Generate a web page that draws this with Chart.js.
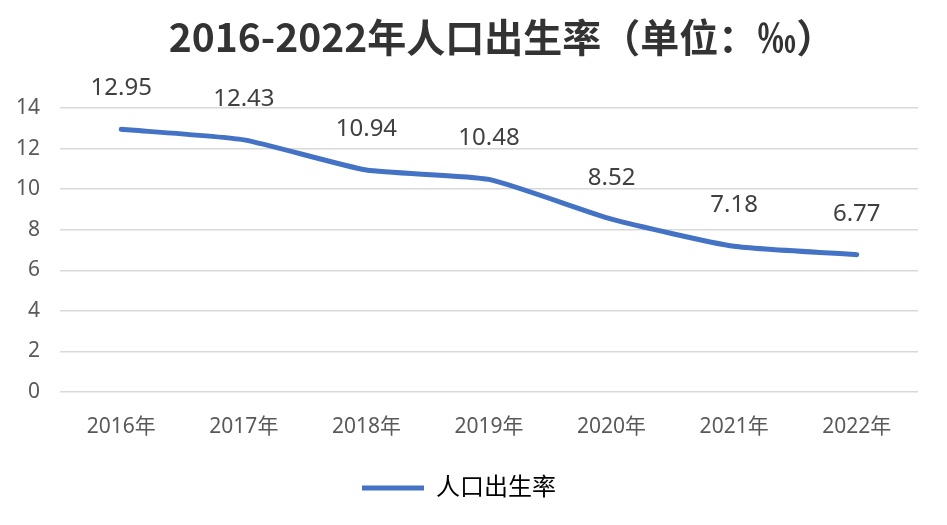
<!DOCTYPE html>
<html>
<head>
<meta charset="utf-8">
<script src="https://cdn.jsdelivr.net/npm/chart.js@4"></script>
<style>
  html, body { margin: 0; padding: 0; background: #fff; }
  #wrap { width: 947px; height: 525px; }
</style>
</head>
<body>
<div id="wrap"><canvas id="birthChart" width="947" height="525"></canvas></div>
<script>
const chartTitle = '2016-2022年人口出生率（单位：‰）';
const years = ['2016年', '2017年', '2018年', '2019年', '2020年', '2021年', '2022年'];
const birthRate = [12.95, 12.43, 10.94, 10.48, 8.52, 7.18, 6.77];
const yTicks = [0, 2, 4, 6, 8, 10, 12, 14];

const textFont = "'Noto Sans', 'Noto Sans CJK SC', sans-serif";

// value labels above each point + title drawn centred on the whole picture
const pointLabels = {
  id: 'pointLabels',
  afterDatasetsDraw(chart){
    const ctx = chart.ctx;
    const meta = chart.getDatasetMeta(0);
    ctx.save();
    ctx.font = '24px ' + textFont;
    ctx.fillStyle = '#404040';
    ctx.textAlign = 'center';
    ctx.textBaseline = 'middle';
    meta.data.forEach((pt, i) => {
      ctx.fillText(birthRate[i].toFixed(2), pt.x, pt.y - 41);
    });
    ctx.restore();
  },
  afterDraw(chart){
    const ctx = chart.ctx;
    ctx.save();
    ctx.font = "bold 39px 'Noto Sans CJK SC', sans-serif";
    ctx.fillStyle = '#333333';
    ctx.textAlign = 'center';
    ctx.textBaseline = 'middle';
    ctx.fillText(chartTitle, 502, 37);
    ctx.restore();
  }
};

new Chart(document.getElementById('birthChart').getContext('2d'), {
  type: 'line',
  data: {
    labels: years,
    datasets: [{
      label: '人口出生率',
      data: birthRate,
      borderColor: '#4472C4',
      backgroundColor: '#4472C4',
      borderWidth: 5,
      borderCapStyle: 'round',
      tension: 0.17,
      pointRadius: 0,
      fill: false
    }]
  },
  options: {
    responsive: false,
    animation: false,
    layout: { padding: { left: 0, right: 29, top: 108, bottom: 15 } },
    plugins: {
      title: { display: false },
      legend: {
        position: 'bottom',
        labels: {
          color: '#595959',
          font: { family: textFont, size: 24 },
          boxWidth: 62,
          boxHeight: 5,
          padding: 10,
          generateLabels(chart){
            return [{
              text: '人口出生率',
              fillStyle: '#4472C4',
              strokeStyle: '#4472C4',
              lineWidth: 0,
              datasetIndex: 0
            }];
          }
        }
      },
      tooltip: { enabled: false }
    },
    scales: {
      x: {
        offset: true,
        grid: { display: false, drawTicks: false },
        border: { display: false },
        ticks: { color: '#595959', font: { family: textFont, size: 21 }, padding: 22, maxRotation: 0 },
        afterFit(scale){ scale.height = 74; }
      },
      y: {
        min: 0,
        max: 14,
        afterBuildTicks(scale){ scale.ticks = yTicks.map(v => ({ value: v })); },
        grid: { color: '#D9D9D9', lineWidth: 1.5, drawTicks: false },
        border: { display: false },
        ticks: { color: '#595959', font: { family: textFont, size: 21 }, padding: 20 },
        afterFit(scale){ scale.width = 60; }
      }
    }
  },
  plugins: [pointLabels]
});
</script>
</body>
</html>
